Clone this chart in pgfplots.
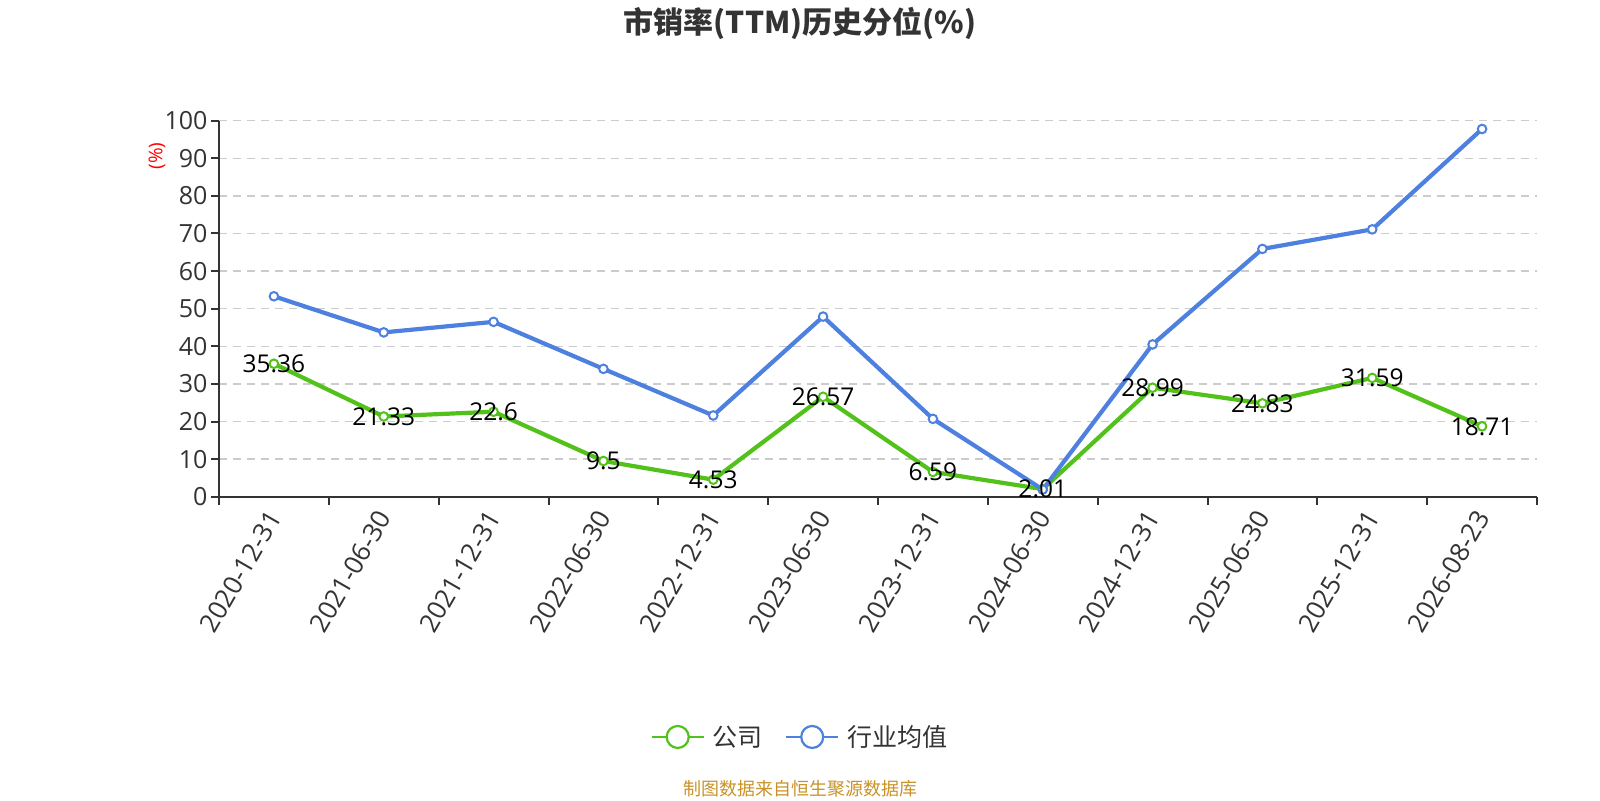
\documentclass[border=0pt]{standalone}
\usepackage{fontspec}
\setmainfont{Open Sans}
\newfontfamily\cjk{Noto Sans CJK SC}
\usepackage{pgfplots}
\pgfplotsset{compat=1.18}
\definecolor{cgreen}{RGB}{82,194,26}
\definecolor{cblue}{RGB}{78,128,224}
\definecolor{cgrid}{RGB}{204,204,204}
\definecolor{caxis}{RGB}{51,51,51}
\definecolor{csrc}{RGB}{200,146,40}
\begin{document}
\begin{tikzpicture}[x=1pt,y=1pt]
\path (0,0) rectangle (1600,800);
\begin{axis}[
  at={(219pt,303.3pt)}, anchor=south west,
  scale only axis, width=1318pt, height=376pt,
  xmin=-0.5, xmax=11.5, ymin=0, ymax=100,
  axis lines*=left,
  axis line style={caxis, line width=2pt},
  tick align=outside, major tick length=8pt,
  tick style={caxis, line width=2pt},
  ytick={0,10,...,100},
  ymajorgrids,
  grid style={cgrid, line width=1.5pt, dash pattern=on 8pt off 6pt},
  /pgf/number format/assume math mode=true,
  yticklabel style={font=\fontsize{25}{25}\selectfont, text=caxis},
  xtick={-0.5,0.5,...,11.5}, xticklabels={},
  extra x ticks={0,1,...,11},
  extra x tick labels={2020-12-31,2021-06-30,2021-12-31,2022-06-30,2022-12-31,2023-06-30,2023-12-31,2024-06-30,2024-12-31,2025-06-30,2025-12-31,2026-08-23},
  extra x tick style={major tick length=0pt, grid=none,
     xticklabel style={rotate=60, anchor=east, font=\fontsize{26}{26}\selectfont, text=caxis, yshift=-8.5pt, xshift=-10pt}},
  legend style={draw=none, at={(0.4408,-0.639)}, anchor=center, legend columns=-1,
     font=\cjk\fontsize{25}{25}\selectfont, text=caxis,
     /tikz/every odd column/.append style={column sep=6pt},
     /tikz/every even column/.append style={column sep=20pt}},
  legend cell align=left,
  clip=false,
]
\addplot[cgreen, line width=4.2pt, mark=*, mark size=4.3pt, mark options={fill=white, draw=cgreen, line width=2pt},
  legend image code/.code={\draw[cgreen, line width=2.5pt] (0pt,0pt) -- (52pt,0pt); \draw[cgreen, line width=2.2pt, fill=white] (26pt,0pt) circle (11pt);}]
coordinates {(0,35.36) (1,21.33) (2,22.6) (3,9.5) (4,4.53) (5,26.57) (6,6.59) (7,2.01) (8,28.99) (9,24.83) (10,31.59) (11,18.71)};
\addlegendentry{公司}
\addplot[cblue, line width=4.2pt, mark=*, mark size=4.3pt, mark options={fill=white, draw=cblue, line width=2pt},
  legend image code/.code={\draw[cblue, line width=2.5pt] (0pt,0pt) -- (52pt,0pt); \draw[cblue, line width=2.2pt, fill=white] (26pt,0pt) circle (11pt);}]
coordinates {(0,53.3) (1,43.7) (2,46.5) (3,34.0) (4,21.6) (5,47.9) (6,20.7) (7,1.9) (8,40.5) (9,65.9) (10,71.1) (11,97.8)};
\addlegendentry{行业均值}
\addplot[draw=none, forget plot, nodes near coords, point meta=explicit symbolic,
  every node near coord/.style={anchor=center, font=\fontsize{24.5}{24.5}\selectfont, text=black, inner sep=0pt}]
coordinates {(0,35.36)[35.36] (1,21.33)[21.33] (2,22.6)[22.6] (3,9.5)[9.5] (4,4.53)[4.53] (5,26.57)[26.57] (6,6.59)[6.59] (7,2.01)[2.01] (8,28.99)[28.99] (9,24.83)[24.83] (10,31.59)[31.59] (11,18.71)[18.71]};
\end{axis}
\node[font=\cjk\bfseries\fontsize{30}{30}\selectfont, text=caxis] at (800,777) {市销率(TTM)历史分位(\%)};
\node[font=\fontsize{19}{19}\selectfont, text=red, rotate=90] at (157,644) {(\%)};
\node[font=\cjk\fontsize{18}{18}\selectfont, text=csrc] at (800,11) {制图数据来自恒生聚源数据库};
\end{tikzpicture}
\end{document}
